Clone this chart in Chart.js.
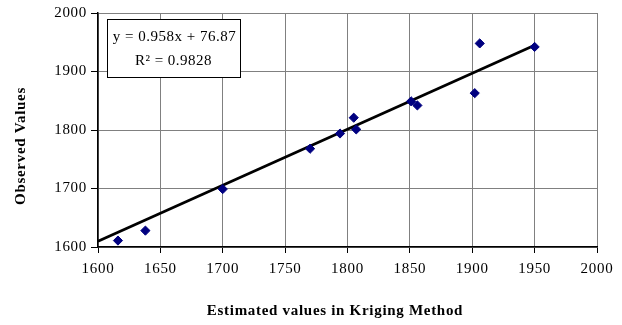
<!DOCTYPE html>
<html>
<head>
<meta charset="utf-8">
<script src="https://cdn.jsdelivr.net/npm/chart.js@4.4.1/dist/chart.umd.min.js"></script>
<style>
  html, body { margin: 0; padding: 0; background: #fff; }
  #wrap { width: 622px; height: 325px; position: relative; }
</style>
</head>
<body>
<div id="wrap"><canvas id="c" width="622" height="325"></canvas></div>
<script>
// Observed vs. estimated (kriging) values
const estimated = [1616, 1638, 1700, 1770, 1794, 1805, 1807, 1851, 1856, 1902, 1906, 1950];
const observed  = [1611, 1628, 1699, 1768, 1794, 1821, 1801, 1849, 1842, 1863, 1948, 1942];

// Linear fit shown in the label box
const slope = 0.958;
const intercept = 76.87;
const rSquared = 0.9828;
const fitRange = [1600, 1950];

const xTicks = [1600, 1650, 1700, 1750, 1800, 1850, 1900, 1950, 2000];
const yTicks = [1600, 1700, 1800, 1900, 2000];

const xTitle = 'Estimated values in Kriging Method';
const yTitle = 'Observed Values';

const points = estimated.map((x, i) => ({ x: x, y: observed[i] }));
const fitLine = fitRange.map(x => ({ x: x, y: slope * x + intercept }));

const serif = "'Liberation Serif', 'Times New Roman', serif";

// Slightly open letter spacing for all chart text
const spacing = {
  id: 'spacing',
  beforeDraw(chart) { chart.ctx.letterSpacing = '0.7px'; }
};

// Axis titles and the regression label box
const annotations = {
  id: 'annotations',
  afterDraw(chart) {
    const ctx = chart.ctx;
    ctx.save();
    ctx.letterSpacing = '0.7px';
    ctx.fillStyle = '#000';
    ctx.textAlign = 'center';
    ctx.textBaseline = 'middle';
    ctx.font = 'bold 15px ' + serif;
    ctx.fillText(xTitle, 335, 311);
    ctx.save();
    ctx.translate(21, 146);
    ctx.rotate(-Math.PI / 2);
    ctx.fillText(yTitle, 0, 0);
    ctx.restore();

    const x0 = 107, y0 = 19, w = 133, h = 58;
    ctx.fillStyle = '#fff';
    ctx.fillRect(x0, y0, w, h);
    ctx.strokeStyle = '#000';
    ctx.lineWidth = 1;
    ctx.strokeRect(x0 + 0.5, y0 + 0.5, w, h);
    ctx.fillStyle = '#000';
    ctx.letterSpacing = '0.5px';
    ctx.font = '15px ' + serif;
    const sign = intercept >= 0 ? '+' : '-';
    ctx.fillText('y = ' + slope + 'x ' + sign + ' ' + Math.abs(intercept), x0 + w / 2 + 1, y0 + 18);
    ctx.fillText('R² = ' + rSquared, x0 + w / 2, y0 + 42);
    ctx.restore();
  }
};

new Chart(document.getElementById('c'), {
  type: 'scatter',
  data: {
    datasets: [
      {
        label: 'Observed',
        data: points,
        pointStyle: 'rectRot',
        pointRadius: 4.6,
        pointHoverRadius: 4.6,
        backgroundColor: '#000080',
        borderColor: '#000080',
        borderWidth: 1
      },
      {
        label: 'Fit',
        data: fitLine,
        showLine: true,
        pointRadius: 0,
        borderColor: '#000',
        borderWidth: 2.8,
        fill: false
      }
    ]
  },
  options: {
    responsive: false,
    animation: false,
    events: [],
    layout: { padding: { top: 10, right: 25, left: 0, bottom: 0 } },
    plugins: { legend: { display: false }, tooltip: { enabled: false } },
    scales: {
      x: {
        type: 'linear',
        min: 1600, max: 2000,
        afterBuildTicks(scale) { scale.ticks = xTicks.map(v => ({ value: v })); },
        afterFit(scale) { scale.height = 78; },
        grid: { color: '#808080', lineWidth: 1, tickColor: '#000', tickLength: 6 },
        border: { color: '#000', width: 1.5 },
        ticks: {
          color: '#000', font: { family: serif, size: 15 }, padding: 7, maxRotation: 0,
          callback: v => String(v)
        }
      },
      y: {
        type: 'linear',
        min: 1600, max: 2000,
        afterBuildTicks(scale) { scale.ticks = yTicks.map(v => ({ value: v })); },
        afterFit(scale) { scale.width = 98; },
        grid: { color: '#808080', lineWidth: 1, tickColor: '#000', tickLength: 7 },
        border: { color: '#000', width: 1.5 },
        ticks: {
          color: '#000', font: { family: serif, size: 15 }, padding: 4,
          callback: v => String(v)
        }
      }
    }
  },
  plugins: [spacing, annotations]
});
</script>
</body>
</html>
